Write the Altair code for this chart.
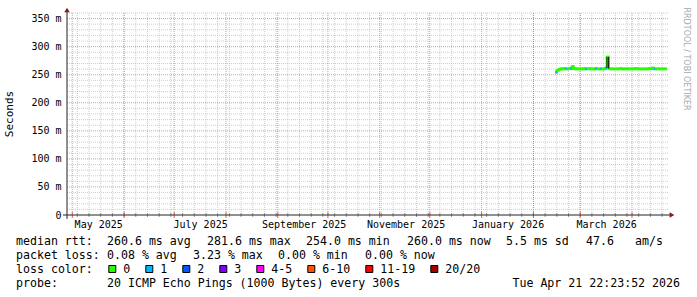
import altair as alt
import pandas as pd

# ---------------- data ----------------
first_day = "2026-02-14"
median_rtt_ms = [
    254.5, 257.5, 259.5, 260.5, 260.0, 261.0, 260.5, 260.0, 261.0, 260.5,
    264.5, 261.0, 260.0, 260.5, 260.0, 260.5, 260.0, 261.0, 260.0, 260.5,
    261.0, 260.0, 260.5, 260.0, 261.0, 260.5, 260.0, 260.5, 260.0, 260.5,
    262.0, 281.6, 261.0, 260.0, 260.5, 260.0, 260.5, 260.0, 260.5, 261.0,
    260.0, 260.5, 260.0, 260.5, 260.0, 260.5, 260.0, 260.5, 261.0, 260.0,
    260.5, 260.0, 260.5, 260.0, 260.5, 260.0, 261.0, 260.5, 262.0, 260.5,
    260.0, 260.5, 260.0, 260.5, 260.0, 260.5, 260.0,
]
lost_pings = [
    1, 0, 0, 0, 0, 0, 1, 0, 0, 1,
    0, 0, 0, 0, 0, 0, 0, 0, 1, 0,
    0, 0, 0, 0, 1, 0, 0, 1, 0, 0,
    1, 0, 0, 0, 0, 0, 0, 0, 0, 0,
    0, 0, 0, 0, 0, 0, 0, 0, 0, 0,
    0, 0, 0, 0, 0, 0, 0, 0, 0, 1,
    0, 0, 0, 0, 0, 0, 0,
]
spike_days = ["2026-03-17", "2026-03-18"]
spike_low_ms = [262.0, 261.0]
spike_high_ms = [281.6, 281.6]

y_ticks = [0, 50, 100, 150, 200, 250, 300, 350]
label_months = [(2025, 5), (2025, 7), (2025, 9), (2025, 11), (2026, 1), (2026, 3)]

loss_names = ["0", "1", "2", "3", "4-5", "6-10", "11-19", "20/20"]
loss_colors = ["#26ff00", "#00b8ff", "#0059ff", "#7e00ff", "#ff00ff", "#ff5500", "#ff0000", "#a00000"]

rtt_tokens = ["median rtt:", "260.6 ms avg", "281.6 ms max", "254.0 ms min", "260.0 ms now",
              "5.5 ms sd", "47.6", "am/s"]
loss_tokens = ["packet loss:", "0.08 % avg", "3.23 % max", "0.00 % min", "0.00 % now"]
legend_color = "loss color:"
probe_tokens = ["probe:", "20 ICMP Echo Pings (1000 Bytes) every 300s"]
stamp = "Tue Apr 21 22:23:52 2026"
watermark = "RRDTOOL / TOBI OETIKER"

# ---------------- layout ----------------
W, H = 601, 202
OX, OY = 67, 13
MONO = "DejaVu Sans Mono"
FS = 11.6
rtt_x = [16, 107, 207, 306, 407, 506, 586, 635]
loss_x = [16, 107, 193, 278, 365]
probe_x = [16, 107]

days = pd.date_range(first_day, periods=len(median_rtt_ms), freq="D")
df = pd.DataFrame({
    "date": days,
    "end": days + pd.Timedelta(days=1),
    "rtt": median_rtt_ms,
    "loss": [loss_names[n] if n < 4 else loss_names[-1] for n in lost_pings],
})
spike_df = pd.DataFrame({"date": pd.to_datetime(spike_days), "lo": spike_low_ms, "hi": spike_high_ms})

weeks = pd.date_range("2025-05-04", "2026-04-19", freq="7D")
months = pd.date_range("2025-05-01", "2026-04-01", freq="MS")
minor_ms = [v for v in range(10, 361, 10) if v % 50 != 0]
major_ms = [v for v in y_ticks if v > 0]

xscale = alt.Scale(type="time", domain=[alt.DateTime(year=2025, month=4, date=27, hours=20),
                                        alt.DateTime(year=2026, month=4, date=22, hours=13)])
yscale = alt.Scale(domain=[0, 360], nice=False, zero=True)

xaxis = alt.Axis(values=[alt.DateTime(year=y, month=m, date=16, hours=12) for y, m in label_months],
                 format="%B %Y", formatType="time", title=None, grid=False, ticks=False, tickSize=0,
                 domain=False, labelFont=MONO, labelFontSize=10, labelColor="#000", labelPadding=4,
                 labelOverlap=False, labelFlush=False)
yaxis = alt.Axis(values=y_ticks, labelExpr="datum.value == 0 ? '0' : datum.value + ' m'", title=None,
                 grid=False, ticks=False, tickSize=0, domain=False, labelFont=MONO, labelFontSize=10,
                 labelColor="#000", labelPadding=6, labelOverlap=False)

X = lambda f: alt.X(f, scale=xscale, axis=xaxis)
Y = lambda f: alt.Y(f, scale=yscale, axis=yaxis)

one = pd.DataFrame({"k": [0]})

layers = []
# grids
layers.append(alt.Chart(pd.DataFrame({"date": weeks})).mark_rule(color="#b4b4b4", strokeDash=[1, 1], strokeWidth=1, opacity=0.65)
              .encode(x=X("date:T")))
layers.append(alt.Chart(pd.DataFrame({"ms": minor_ms})).mark_rule(color="#b4b4b4", strokeDash=[1, 1], strokeWidth=1, opacity=0.65)
              .encode(y=Y("ms:Q")))
layers.append(alt.Chart(pd.DataFrame({"date": months})).mark_rule(color="#ff0000", strokeDash=[1, 1], strokeWidth=1, opacity=0.45)
              .encode(x=X("date:T")))
layers.append(alt.Chart(pd.DataFrame({"ms": major_ms})).mark_rule(color="#ff0000", strokeDash=[1, 1], strokeWidth=1, opacity=0.45)
              .encode(y=Y("ms:Q")))
# axis tick marks around x axis
layers.append(alt.Chart(pd.DataFrame({"date": weeks})).mark_rule(color="#999999", strokeWidth=1)
              .encode(x=X("date:T"), y=alt.value(H - 2), y2=alt.value(H + 2)))
layers.append(alt.Chart(pd.DataFrame({"date": months})).mark_rule(color="#e06060", strokeWidth=1)
              .encode(x=X("date:T"), y=alt.value(H - 3), y2=alt.value(H + 3)))

# data
layers.append(alt.Chart(df).mark_line(interpolate="step-after", color="#26ff00", strokeWidth=2.5)
              .encode(x=X("date:T"), y=Y("rtt:Q")))
layers.append(alt.Chart(df).mark_rule(strokeWidth=2.5)
              .encode(x=X("date:T"), x2="end:T", y=Y("rtt:Q"),
                      color=alt.Color("loss:N", scale=alt.Scale(domain=loss_names, range=loss_colors), legend=None)))
layers.append(alt.Chart(spike_df).mark_rule(color="#111111", strokeWidth=1)
              .encode(x=X("date:T"), y=Y("lo:Q"), y2="hi:Q"))

# axes lines and arrows
AXC = "#222222"
ARC = "#7f1f1f"
layers.append(alt.Chart(one).mark_rule(color=AXC, strokeWidth=1)
              .encode(x=alt.value(-4), x2=alt.value(W + 2), y=alt.value(H)))
layers.append(alt.Chart(one).mark_rule(color=AXC, strokeWidth=1)
              .encode(x=alt.value(0), y=alt.value(H + 4), y2=alt.value(-1)))
layers.append(alt.Chart(one).mark_point(shape="triangle-right", filled=True, size=30, color=ARC, opacity=1)
              .encode(x=alt.value(W + 4), y=alt.value(H)))
layers.append(alt.Chart(one).mark_point(shape="triangle-up", filled=True, size=30, color=ARC, opacity=1)
              .encode(x=alt.value(0), y=alt.value(-3)))

# texts
def txt(s, xa, ya, **kw):
    props = dict(align="left", baseline="alphabetic", font=MONO, fontSize=FS, color="#000")
    props.update(kw)
    return (alt.Chart(one).mark_text(**props)
            .encode(x=alt.value(xa - OX), y=alt.value(ya - OY), text=alt.value(s.replace(" ", "\u00a0"))))

layers.append(txt("Seconds", 10, 114, angle=270, align="center", baseline="middle", fontSize=11))
layers.append(txt(watermark, 686, 59, angle=90, align="center", baseline="middle",
                  font="DejaVu Sans", fontSize=8, color="#a8a8a8"))
for s, xa in zip(rtt_tokens, rtt_x):
    layers.append(txt(s, xa, 245))
for s, xa in zip(loss_tokens, loss_x):
    layers.append(txt(s, xa, 259))
layers.append(txt(legend_color, 16, 273))
for s, xa in zip(probe_tokens, probe_x):
    layers.append(txt(s, xa, 287))
layers.append(txt(stamp, 680, 287, align="right"))

b = 108.3
for name, col in zip(loss_names, loss_colors):
    layers.append(alt.Chart(one).mark_square(size=49, fill=col, stroke="#000", strokeWidth=1, fillOpacity=1, opacity=1)
                  .encode(x=alt.value(b + 4 - OX), y=alt.value(269 - OY)))
    layers.append(txt(name, b + 15, 273))
    b = b + 30 + 7 * len(name)

chart = (alt.layer(*layers)
         .properties(width=W, height=H, autosize=alt.AutoSizeParams(type="none"),
                     padding={"left": OX, "top": OY, "right": 697 - OX - W, "bottom": 297 - OY - H},
                     background="white")
         .configure_view(strokeWidth=0))

chart.save("out.html", embed_options={"renderer": "svg", "actions": False})
